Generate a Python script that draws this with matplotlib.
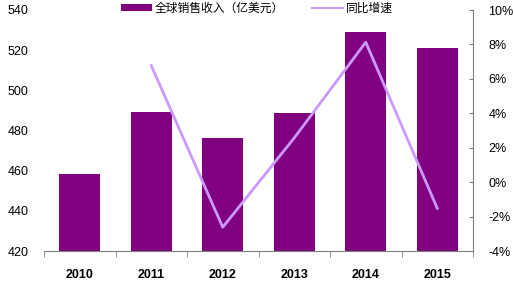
import matplotlib
matplotlib.use("Agg")
import matplotlib.pyplot as plt
from matplotlib.ticker import FuncFormatter, FixedLocator
import numpy as np

years = ["2010", "2011", "2012", "2013", "2014", "2015"]
revenue = [458.3, 489.4, 476.4, 488.9, 529.2, 520.9]
growth_years_idx = [1, 2, 3, 4, 5]
growth = [6.77, -2.62, 2.57, 8.13, -1.52]
bar_label = "全球销售收入（亿美元）"
line_label = "同比增速"

plt.rcParams['font.family'] = ['Liberation Sans', 'Noto Sans CJK SC', 'DejaVu Sans']

fig = plt.figure(figsize=(5.14, 2.84), dpi=100)
ax = fig.add_axes([44/514, 33/284, (473-44)/514, (251-10)/284])
x = np.arange(len(years))
bars = ax.bar(x, revenue, width=0.58, color="#800080", label=bar_label, zorder=2)
ax.set_xlim(-0.5, 5.5)
ax.set_ylim(420, 540)
ax.set_yticks(np.arange(420, 541, 20))
ax.tick_params(axis='y', length=0, pad=11, labelsize=9)
ax.set_xticks(x)
ax.set_xticklabels(years, fontsize=9, fontweight='bold')
ax.xaxis.set_minor_locator(FixedLocator(np.arange(-0.5, 6, 1)))
ax.tick_params(axis='x', which='major', length=0, pad=13)
ax.tick_params(axis='x', which='minor', length=4, color='#808080', direction='out')
for s in ['top', 'left', 'right']:
    ax.spines[s].set_visible(False)
ax.spines['bottom'].set_color('#808080')

ax2 = ax.twinx()
line, = ax2.plot([x[i] for i in growth_years_idx], growth, color="#CC99FF", lw=2, label=line_label, zorder=3)
ax2.set_ylim(-4, 10)
ax2.set_yticks(np.arange(-4, 11, 2))
ax2.yaxis.set_major_formatter(FuncFormatter(lambda v, p: f"{int(v)}%"))
ax2.tick_params(axis='y', direction='in', length=3, color='#808080', pad=11, labelsize=9)
for s in ['top', 'left', 'bottom']:
    ax2.spines[s].set_visible(False)
ax2.spines['right'].set_color('#808080')

leg = fig.legend([bars, line], [bar_label, line_label], ncol=2, loc='center',
                 bbox_to_anchor=(257/514, 1 - 8/284), frameon=False,
                 handlelength=2.6, handleheight=0.6, handletextpad=0.25, columnspacing=2.35,
                 prop={'family': ['Noto Sans CJK SC', 'DejaVu Sans'], 'size': 8.5})
for l in leg.get_lines():
    l.set_linewidth(1.5)

fig.savefig("out.png", dpi=100)
